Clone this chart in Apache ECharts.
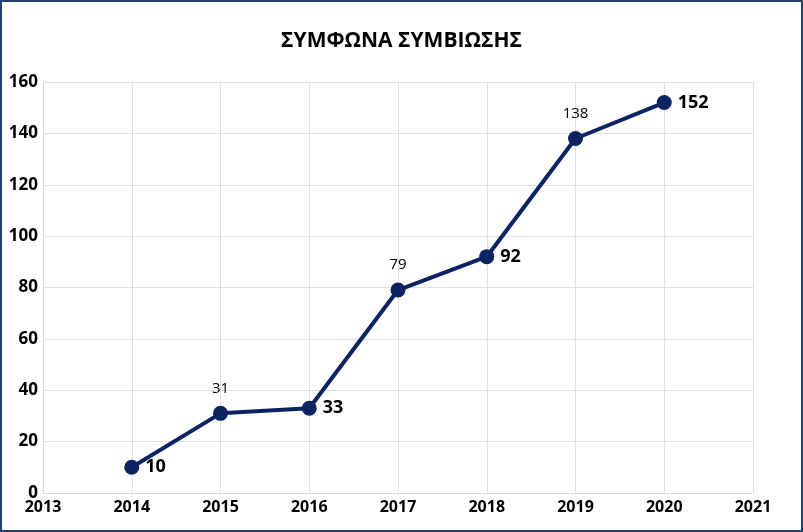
<!DOCTYPE html>
<html><head><meta charset="utf-8">
<script src="https://cdn.jsdelivr.net/npm/echarts@6/dist/echarts.min.js"></script>
<style>html,body{margin:0;padding:0;background:#fff}#c{width:803px;height:532px}</style>
</head><body><div id="c"></div>
<script>
const years = [2014, 2015, 2016, 2017, 2018, 2019, 2020];
const values = [10, 31, 33, 79, 92, 138, 152];
const labelStyle = ['right', 'top', 'right', 'top', 'right', 'top', 'right'];
const titleText = 'ΣΥΜΦΩΝΑ ΣΥΜΒΙΩΣΗΣ';
const font = '"Open Sans", "Noto Sans", sans-serif';
const navy = '#0B2461';
const data = years.map((y, i) => {
  const big = labelStyle[i] === 'right';
  return {
    value: [y, values[i]],
    label: big ? {position: 'right', distance: 6, fontSize: 18, fontWeight: 'bold', color: '#000'}
               : {position: 'top', distance: 10, fontSize: 15, fontWeight: 'normal', color: '#000'}
  };
});
const chart = echarts.init(document.getElementById('c'));
chart.setOption({
  animation: false,
  title: {text: titleText, left: 'center', top: 26, textStyle: {fontFamily: font, fontSize: 21, fontWeight: 'bold', color: '#000'}},
  graphic: [{type: 'rect', shape: {x: 1, y: 1, width: 801, height: 530}, style: {fill: 'none', stroke: '#24406F', lineWidth: 2}, silent: true}],
  grid: {left: 43, right: 50, top: 82, bottom: 39},
  xAxis: {type: 'value', min: 2013, max: 2021, interval: 1,
    axisLine: {show: true, lineStyle: {color: '#d9d9d9'}}, axisTick: {show: false},
    splitLine: {show: true, lineStyle: {color: '#e0e0e0'}},
    axisLabel: {fontFamily: font, fontSize: 16, fontWeight: 'bold', color: '#000', margin: 6, formatter: v => String(v)}},
  yAxis: {type: 'value', min: 0, max: 160, interval: 20,
    axisLine: {show: true, lineStyle: {color: '#d9d9d9'}}, axisTick: {show: false},
    splitLine: {show: true, lineStyle: {color: '#e0e0e0'}},
    axisLabel: {fontFamily: font, fontSize: 17, fontWeight: 'bold', color: '#000', margin: 5}},
  series: [{type: 'line', data: data, symbol: 'circle', symbolSize: 15,
    lineStyle: {color: navy, width: 4}, itemStyle: {color: navy},
    label: {show: true, fontFamily: font, formatter: p => p.value[1]}}]
});
</script></body></html>
